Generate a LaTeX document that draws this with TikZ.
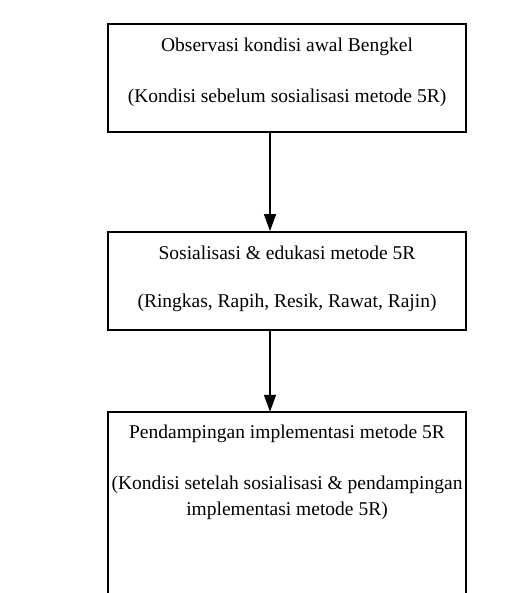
\documentclass[tikz,border=0pt]{standalone}
\usepackage{fontspec}
\setmainfont{Liberation Serif}
\usetikzlibrary{arrows.meta}
\begin{document}
\begin{tikzpicture}[x=1pt,y=1pt,
  boxline/.style={line width=1.8pt},
  stepbox/.style={draw, boxline, minimum width=358pt, inner sep=0pt},
  txt/.style={font=\fontsize{19.5}{23}\selectfont, anchor=base, inner sep=0pt},
  flow/.style={line width=1.5pt, -{Triangle[length=17pt,width=12pt]}}]
\useasboundingbox (0,0) rectangle (531,-593);
\node[stepbox, minimum height=108pt] (b1) at (287,-78) {};
\node[stepbox, minimum height=98pt] (b2) at (287,-281) {};
\node[minimum width=358pt, minimum height=186pt, inner sep=0pt] (b3) at (287,-505) {};
\draw[boxline] (b3.south west) -- (b3.north west) -- (b3.north east) -- (b3.south east);
\node[txt] (t1a) at (287,-52) {Observasi kondisi awal Bengkel};
\node[txt] (t1b) at (287,-103) {(Kondisi sebelum sosialisasi metode 5R)};
\node[txt] (t2a) at (287,-259) {Sosialisasi \& edukasi metode 5R};
\node[txt] (t2b) at (287,-307) {(Ringkas, Rapih, Resik, Rawat, Rajin)};
\node[txt] (t3a) at (287,-438) {Pendampingan implementasi metode 5R};
\node[txt] (t3b) at (287,-489) {(Kondisi setelah sosialisasi \& pendampingan};
\node[txt] (t3c) at (287,-515) {implementasi metode 5R)};
\draw[flow] ([xshift=-17pt]b1.south) -- ([xshift=-17pt]b2.north);
\draw[flow] ([xshift=-17pt]b2.south) -- ([xshift=-17pt]b3.north);
\end{tikzpicture}
\end{document}
